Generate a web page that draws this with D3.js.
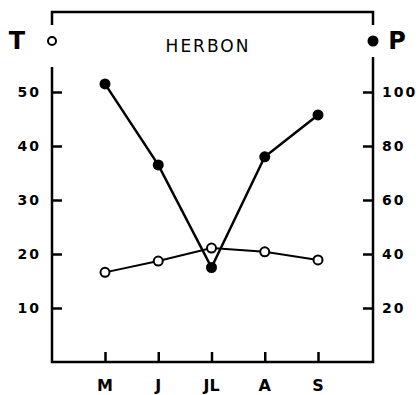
<!DOCTYPE html>
<html>
<head>
<meta charset="utf-8">
<script src="https://cdn.jsdelivr.net/npm/d3@7"></script>
<style>
  body { margin: 0; background: #fff; }
  svg { font-family: "DejaVu Sans", sans-serif; }
</style>
</head>
<body>
<div id="chart"></div>
<script>
// months and values
const months = ['M', 'J', 'JL', 'A', 'S'];
const tempValues = [16.6, 18.7, 21.1, 20.4, 18.9];   // T (open circles), left axis
const precipValues = [103, 73, 35, 76, 91.5];        // P (filled circles), right axis
const tempTicks = [10, 20, 30, 40, 50];
const precipTicks = [20, 40, 60, 80, 100];

const width = 419, height = 395;
const frameLeft = 52, frameRight = 373, frameTop = 12, frameBottom = 362;

const svg = d3.select('#chart')
  .append('svg')
    .attr('width', width)
    .attr('height', height);

const x = d3.scalePoint()
  .domain(months)
  .range([105, 318]);

const yT = d3.scaleLinear()
  .domain([0, 50])
  .range([frameBottom, 92]);

const yP = d3.scaleLinear()
  .domain([0, 100])
  .range([frameBottom, 92]);

// frame: top line with short drops, broken side axes, bottom line
const frame = svg.append('g')
  .attr('fill', 'none')
  .attr('stroke', '#000')
  .attr('stroke-width', 2.5);

frame.append('path')
  .attr('d', `M${frameLeft},${frameTop + 13}V${frameTop}H${frameRight}V${frameTop + 13}`);
frame.append('path')
  .attr('d', `M${frameLeft},67V${frameBottom}H${frameRight}V57`);

// left axis, ticks pointing inward
const leftAxis = svg.append('g')
  .attr('transform', `translate(${frameLeft},0)`)
  .call(d3.axisRight(yT).tickValues(tempTicks).tickSize(10).tickFormat(''));
leftAxis.select('.domain').remove();
leftAxis.selectAll('line').attr('stroke-width', 2.5);

svg.append('g')
  .selectAll('text')
  .data(tempTicks)
  .enter().append('text')
    .attr('x', 41)
    .attr('y', d => yT(d))
    .attr('dy', '0.36em')
    .attr('text-anchor', 'end')
    .attr('font-size', 14)
    .attr('font-weight', 'bold')
    .attr('letter-spacing', 2)
    .text(d => d);

// right axis, ticks pointing inward
const rightAxis = svg.append('g')
  .attr('transform', `translate(${frameRight},0)`)
  .call(d3.axisLeft(yP).tickValues(precipTicks).tickSize(10).tickFormat(''));
rightAxis.select('.domain').remove();
rightAxis.selectAll('line').attr('stroke-width', 2.5);

svg.append('g')
  .selectAll('text')
  .data(precipTicks)
  .enter().append('text')
    .attr('x', 382)
    .attr('y', d => yP(d))
    .attr('dy', '0.36em')
    .attr('text-anchor', 'start')
    .attr('font-size', 14)
    .attr('font-weight', 'bold')
    .attr('letter-spacing', 2)
    .text(d => d);

// bottom axis, ticks pointing up
const xAxis = svg.append('g')
  .attr('transform', `translate(0,${frameBottom})`)
  .call(d3.axisTop(x).tickSize(10).tickFormat(''));
xAxis.select('.domain').remove();
xAxis.selectAll('line').attr('stroke-width', 2.5);

svg.append('g')
  .selectAll('text')
  .data(months)
  .enter().append('text')
    .attr('x', d => x(d))
    .attr('y', 391)
    .attr('text-anchor', 'middle')
    .attr('font-size', 16)
    .attr('font-weight', 'bold')
    .text(d => d);

// axis letters and markers
svg.append('text')
  .attr('x', 17).attr('y', 49)
  .attr('text-anchor', 'middle')
  .attr('font-size', 24).attr('font-weight', 'bold')
  .text('T');
svg.append('circle')
  .attr('cx', frameLeft).attr('cy', 41).attr('r', 4)
  .attr('fill', '#fff').attr('stroke', '#000').attr('stroke-width', 2);

svg.append('circle')
  .attr('cx', frameRight).attr('cy', 41).attr('r', 5.5)
  .attr('fill', '#000');
svg.append('text')
  .attr('x', 397).attr('y', 49)
  .attr('text-anchor', 'middle')
  .attr('font-size', 24).attr('font-weight', 'bold')
  .text('P');

svg.append('text')
  .attr('x', 208).attr('y', 52)
  .attr('text-anchor', 'middle')
  .attr('font-size', 17)
  .attr('letter-spacing', 2)
  .text('HERBON');

// precipitation line
const lineP = d3.line()
  .x((d, i) => x(months[i]))
  .y(d => yP(d));

svg.append('path')
  .datum(precipValues)
  .attr('d', lineP)
  .attr('fill', 'none')
  .attr('stroke', '#000')
  .attr('stroke-width', 2.5);

svg.selectAll('.p-dot')
  .data(precipValues)
  .enter().append('circle')
    .attr('class', 'p-dot')
    .attr('cx', (d, i) => x(months[i]))
    .attr('cy', d => yP(d))
    .attr('r', 5.5)
    .attr('fill', '#000');

// temperature line
const lineT = d3.line()
  .x((d, i) => x(months[i]))
  .y(d => yT(d));

svg.append('path')
  .datum(tempValues)
  .attr('d', lineT)
  .attr('fill', 'none')
  .attr('stroke', '#000')
  .attr('stroke-width', 2);

svg.selectAll('.t-dot')
  .data(tempValues)
  .enter().append('circle')
    .attr('class', 't-dot')
    .attr('cx', (d, i) => x(months[i]))
    .attr('cy', d => yT(d))
    .attr('r', 4.5)
    .attr('fill', '#fff')
    .attr('stroke', '#000')
    .attr('stroke-width', 2);
</script>
</body>
</html>
